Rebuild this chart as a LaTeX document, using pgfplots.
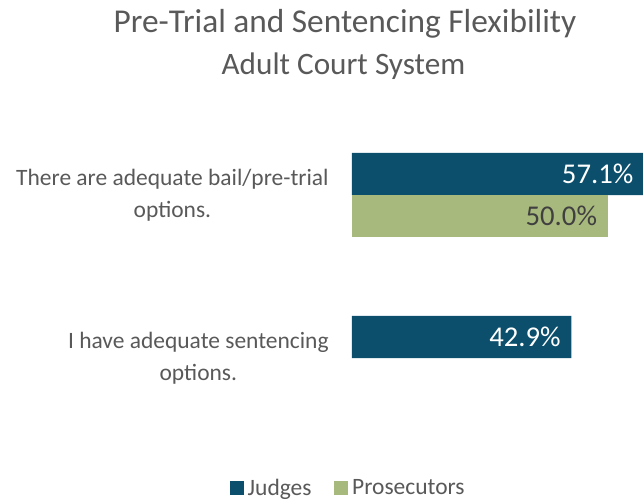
\documentclass[border=0pt]{standalone}
\usepackage{fontspec}
\setmainfont{Carlito}
\usepackage{pgfplots}
\pgfplotsset{compat=1.18}
\definecolor{judges}{RGB}{11,79,108}
\definecolor{prosec}{RGB}{168,185,125}
\definecolor{txtgray}{RGB}{89,89,89}
\definecolor{lblgray}{RGB}{64,64,64}

\begin{document}
\begin{tikzpicture}
\useasboundingbox (0,0) rectangle (482.25pt,-376.5pt);
\node[txtgray,font=\fontsize{25}{30}\selectfont] at (258.75pt,-17.5pt) {Pre-Trial and Sentencing Flexibility};
\node[txtgray,font=\fontsize{23.4}{28}\selectfont] at (257.6pt,-49.5pt) {Adult Court System};
\begin{axis}[
  at={(264pt,-329.625pt)}, anchor=south west,
  scale only axis, width=218.25pt, height=244.5pt,
  xbar, bar width=0.258,
  xmin=0, xmax=56.9, ymin=-0.5, ymax=1.5,
  hide x axis,
  y axis line style={draw=none},
  ytick={0,1},
  yticklabels={{I have adequate sentencing\\options.},{There are adequate bail/pre-trial\\options.}},
  yticklabel style={align=center, font=\fontsize{17.6}{24}\selectfont, text=txtgray, xshift=-14pt},
  major tick length=0pt,
  clip=false,
  point meta=x,
  /pgf/number format/assume math mode=true,
  nodes near coords={\pgfmathprintnumber[fixed,fixed zerofill,precision=1]{\pgfplotspointmeta}\%},
  every node near coord/.append style={anchor=east, xshift=-4.5pt, font=\fontsize{21.5}{24}\selectfont},
  legend columns=2,
  legend style={at={(rel axis cs:-0.012,-0.150)}, anchor=center, draw=none,
    font=\fontsize{17.6}{20}\selectfont, text=txtgray,
    /tikz/every odd column/.append style={column sep=1pt},
    /tikz/every even column/.append style={column sep=15pt}},
  legend image code/.code={\fill[#1] (0pt,-5pt) rectangle (10.5pt,5.5pt);},
]
\addplot[fill=judges, draw=none, bar shift=0.129,
  every node near coord/.append style={text=white}] coordinates {(57.1,1) (42.9,0)};
\addplot[fill=prosec, draw=none, bar shift=-0.129,
  every node near coord/.append style={text=lblgray}] coordinates {(50.0,1)};
\legend{Judges,Prosecutors}
\end{axis}
\end{tikzpicture}
\end{document}
